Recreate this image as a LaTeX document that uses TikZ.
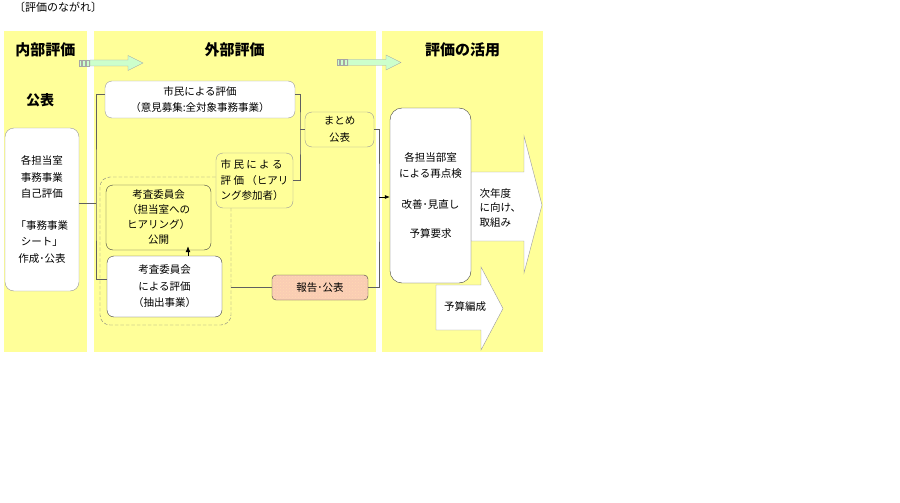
\documentclass[tikz,border=0pt]{standalone}
\usepackage{fontspec}
\setmainfont{Noto Sans CJK JP}
\usetikzlibrary{positioning,arrows.meta,patterns}
\definecolor{paneyellow}{RGB}{255,255,153}
\definecolor{notepink}{RGB}{250,205,180}
\definecolor{flowgreen}{RGB}{204,255,204}
\tikzset{
    panel/.style = {
        fill = paneyellow,
        },
    heading/.style = {
        font = \fontsize{15}{18}\selectfont\bfseries,
        },
    body/.style = {
        font = \fontsize{10.5}{16.5}\selectfont,
        },
    box/.style = {
        body,
        draw = gray!80,
        rounded corners = 7pt,
        align = center,
        inner sep = 2pt,
        },
    plain box/.style = {
        box,
        fill = white,
        },
    pale box/.style = {
        box,
        fill = paneyellow,
        },
    strong/.style = {
        draw = black!75,
        },
    report/.style = {
        box,
        strong,
        rounded corners = 4pt,
        preaction = {fill = notepink},
        pattern = crosshatch dots,
        pattern color = orange!30,
        },
    link/.style = {
        draw = gray!75!black,
        line width = 0.6pt,
        },
    block arrow/.style = {
        draw = gray!80,
        fill = white,
        },
    flow arrow/.style = {
        draw = gray!70,
        fill = flowgreen,
        },
}
\begin{document}
\begin{tikzpicture}[x=1pt, y=-1pt]
    \useasboundingbox (0,0) rectangle (900,503);

    % panels
    \fill[panel] (4,31) rectangle (87,352);
    \fill[panel] (94,31) rectangle (376,352);
    \fill[panel] (382,31) rectangle (543,352);

    \node[body, font=\fontsize{11}{12}\selectfont] (title) at (58,7) {〔評価のながれ〕};
    \node[heading] (inner) at (45.5,50) {内部評価};
    \node[heading] (outer) at (234.5,50) {外部評価};
    \node[heading] (use) at (462.5,50) {評価の活用};
    \node[heading, font=\fontsize{14}{16}\selectfont\bfseries] (pub) at (40,100) {公表};

    % green arrows between the panels
    \draw[flow arrow] (90,60) -- (128,60) -- (128,55.5) -- (143,63) -- (128,70.5) -- (128,66) -- (90,66) -- cycle;
    \draw[flow arrow] (79,60) rectangle (81,66) (82.5,60) rectangle (85,66) (86,60) rectangle (89,66);
    \draw[flow arrow] (348,59.5) -- (386,59.5) -- (386,55) -- (401,62.5) -- (386,70) -- (386,65.5) -- (348,65.5) -- cycle;
    \draw[flow arrow] (337,59.5) rectangle (339,65.5) (340.5,59.5) rectangle (343,65.5) (344,59.5) rectangle (347,65.5);

    % internal evaluation
    \node[plain box, rounded corners=9pt, minimum width=74pt, minimum height=163pt] (sheet) at (42,209.5)
        {各担当室\\事務事業\\自己評価\\[15pt]「事務事業\\シート」\\作成･公表};

    % external evaluation
    \node[draw=gray, dash pattern=on 3.5pt off 2pt, rounded corners=10pt, minimum width=131pt, minimum height=148pt] (frame) at (165.5,251) {};
    \node[plain box, minimum width=190pt, minimum height=37pt] (citizen) at (200,99.5)
        {市民による評価\\（意見募集:全対象事務事業）};
    \node[pale box, minimum width=69pt, minimum height=35pt] (summary) at (339.5,129.5) {まとめ\\公表};
    \node[pale box, align=left, minimum width=77pt, minimum height=55pt, font=\fontsize{10.5}{15.5}\selectfont] (hearing) at (254.5,180.5)
        {市 民 に よ る\\評 価 （ヒアリ\\ング参加者）};
    \node[pale box, strong, minimum width=105pt, minimum height=65pt, font=\fontsize{10.5}{15}\selectfont] (open) at (158.5,217.5)
        {考査委員会\\（担当室への\\ヒアリング）\\公開};
    \node[plain box, strong, minimum width=115pt, minimum height=61pt] (review) at (164.5,286.5)
        {考査委員会\\による評価\\（抽出事業）};
    \node[report, minimum width=96pt, minimum height=25pt] (report) at (320,287.5) {報告･公表};

    % use of the evaluation
    \draw[block arrow] (471,172) -- (524,172) -- (524,136) -- (542,205) -- (524,273) -- (524,241) -- (471,241) -- cycle;
    \draw[block arrow] (436,285) -- (481,285) -- (481,267) -- (503,308.5) -- (481,350) -- (481,330) -- (436,330) -- cycle;
    \node[body, align=left, anchor=west, font=\fontsize{10.5}{14.5}\selectfont] (nextyear) at (476,207.5) {次年度\\に向け、\\取組み};
    \node[body] (budget) at (465,307) {予算編成};
    \node[plain box, strong, rounded corners=12pt, minimum width=81pt, minimum height=175pt] (recheck) at (430.5,195.5)
        {各担当部室\\による再点検\\[14pt]改善･見直し\\[13pt]予算要求};

    % connectors
    \coordinate (trunk) at (96,203);
    \coordinate (joint) at (300,129.5);
    \coordinate (merge) at (379,197);
    \path ([yshift=6.5pt]sheet.east) edge[link] (trunk);
    \draw[link] ([yshift=5.5pt]citizen.west) -| (trunk) |- ([yshift=7.5pt]review.west);
    \draw[link] ([yshift=5.5pt]citizen.east) -| (joint) |- (hearing.east);
    \path (joint) edge[link] (summary.west);
    \draw[link] (summary.east) -| (merge) |- (report.east);
    \path (merge) edge[link, -{Latex[length=5pt,width=4pt]}, black] (merge -| recheck.west);
    \path (frame.east |- report.west) edge[link] (report.west);
    \path ([xshift=23.5pt]review.north) edge[link, black, line width=0.8pt, -{Latex[length=6pt,width=5pt]}] ([xshift=23.5pt,yshift=4pt]review.north |- open.south);
\end{tikzpicture}
\end{document}
